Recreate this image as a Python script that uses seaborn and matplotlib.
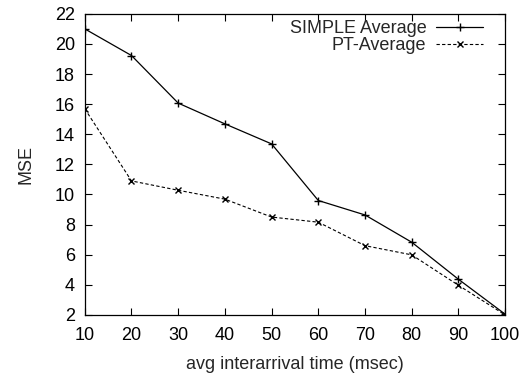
import matplotlib
matplotlib.use("Agg")
import matplotlib.pyplot as plt
import seaborn as sns
import pandas as pd

x_vals = [10, 20, 30, 40, 50, 60, 70, 80, 90, 100]
simple_avg = [21.0, 19.23, 16.07, 14.69, 13.36, 9.6, 8.64, 6.83, 4.37, 2.05]
pt_avg = [15.69, 10.9, 10.28, 9.69, 8.5, 8.16, 6.6, 5.99, 3.97, 2.0]
series_names = ["SIMPLE Average", "PT-Average"]
x_ticks = [10, 20, 30, 40, 50, 60, 70, 80, 90, 100]
y_ticks = [2, 4, 6, 8, 10, 12, 14, 16, 18, 20, 22]

sns.set_style("ticks")
plt.rcParams['font.family'] = ['Liberation Sans', 'DejaVu Sans']

FS = 13

fig = plt.figure(figsize=(5.3, 3.74), dpi=100)
ax = fig.add_axes([0.160, 0.158, 0.793, 0.805])

df1 = pd.DataFrame({"x": x_vals, "y": simple_avg})
df2 = pd.DataFrame({"x": x_vals, "y": pt_avg})

sns.lineplot(data=df1, x="x", y="y", ax=ax, color="black", linewidth=0.9,
             marker="+", markersize=5.5, markeredgewidth=1.0,
             markeredgecolor="black", markerfacecolor="black",
             label=series_names[0])
sns.lineplot(data=df2, x="x", y="y", ax=ax, color="black", linewidth=0.8,
             linestyle=(0, (3, 2)), marker="x", markersize=4.5, markeredgewidth=1.0,
             markeredgecolor="black", markerfacecolor="black",
             label=series_names[1])

ax.set_xlim(10, 100)
ax.set_ylim(2, 22)
ax.set_xticks(x_ticks)
ax.set_yticks(y_ticks)
ax.tick_params(direction="in", length=5, width=0.8, top=True, right=True,
               labelsize=FS, colors="black")
ax.tick_params(axis="x", pad=9)
ax.tick_params(axis="y", pad=7)
for s in ax.spines.values():
    s.set_linewidth(0.9)
    s.set_color("black")
    s.set_visible(True)

ax.set_xlabel("avg interarrival time (msec)", fontsize=FS, labelpad=8)
ax.set_ylabel("MSE", fontsize=FS, labelpad=15)

leg = ax.legend(loc="upper right", bbox_to_anchor=(0.948, 0.98), frameon=False,
                markerfirst=False, fontsize=FS, handlelength=2.6,
                handletextpad=0.55, borderaxespad=0, borderpad=0,
                labelspacing=0)

fig.savefig("out.png", dpi=100)
